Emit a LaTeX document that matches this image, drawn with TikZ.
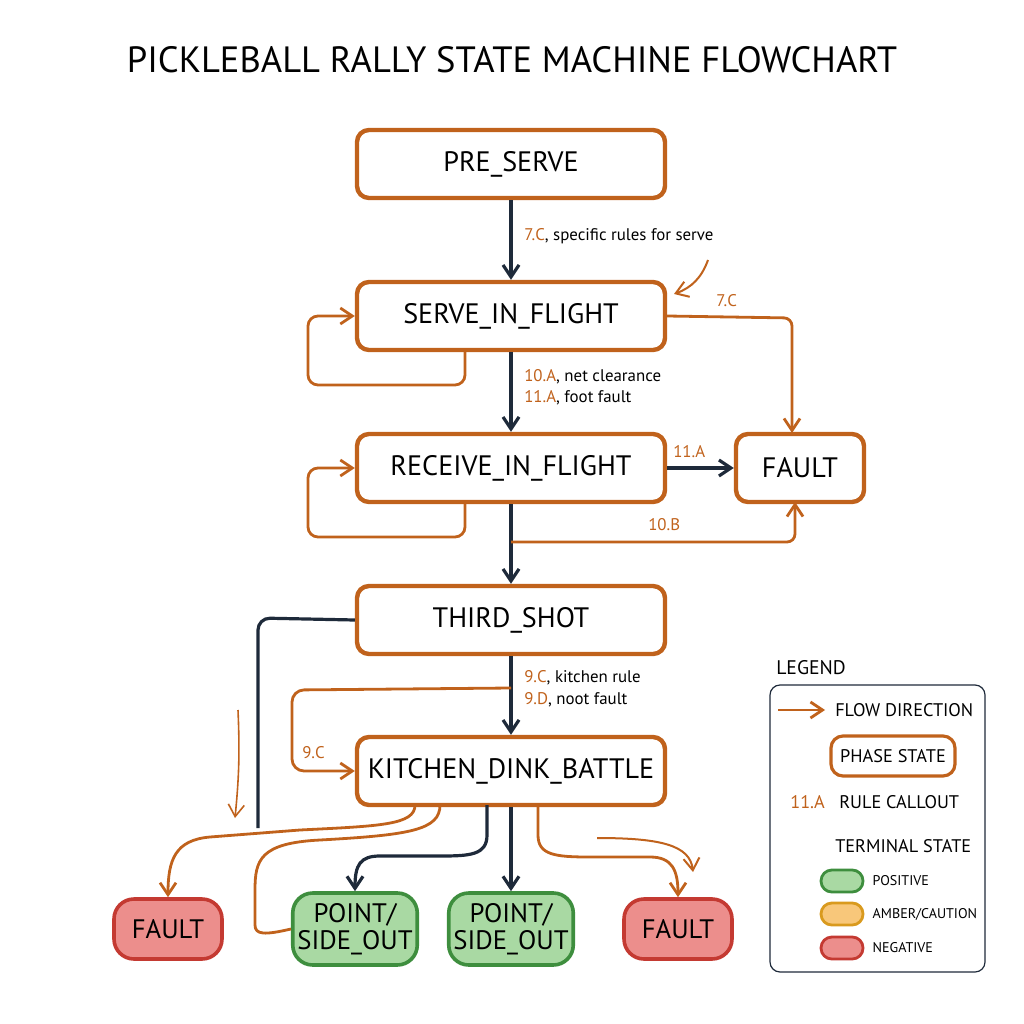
\documentclass[tikz,border=0pt]{standalone}
\usepackage{fontspec}
\setmainfont{PT Sans}
\usetikzlibrary{positioning, arrows.meta}
\definecolor{rust}{HTML}{C0621C}
\definecolor{navy}{HTML}{1E2A3A}
\definecolor{okline}{HTML}{3E8E3E}
\definecolor{okfill}{HTML}{A9D9A3}
\definecolor{badline}{HTML}{C43A32}
\definecolor{badfill}{HTML}{EC8E8C}
\definecolor{ambline}{HTML}{D99A1E}
\definecolor{ambfill}{HTML}{F8C77A}
\begin{document}
\begin{tikzpicture}[x=0.25mm, y=-0.25mm,
	phase/.style={draw=rust, line width=1.1mm, rounded corners=3mm, fill=white, minimum width=77mm, minimum height=17mm, font=\fontsize{20}{24}\selectfont},
	bad/.style={draw=badline, fill=badfill, line width=0.9mm, rounded corners=5mm, minimum width=27mm, minimum height=15mm, font=\fontsize{19}{22}\selectfont},
	good/.style={draw=okline, fill=okfill, line width=0.9mm, rounded corners=5mm, minimum width=31mm, minimum height=18mm, align=center, font=\fontsize{19}{19}\selectfont},
	lbl/.style={font=\fontsize{12}{14}\selectfont, anchor=west, inner sep=0pt},
	rule/.style={text=rust},
	nv/.style={draw=navy, line width=0.8mm, -{Straight Barb[length=3mm,width=4mm]}},
	og/.style={draw=rust, line width=0.7mm, -{Straight Barb[length=3mm,width=4mm]}},
	pill/.style={line width=0.7mm, rounded corners=2.7mm, minimum width=10.5mm, minimum height=5.5mm},
	]
\useasboundingbox (0,0) rectangle (1024,1024);
\node[font=\fontsize{26}{30}\selectfont] (title) at (512,60) {PICKLEBALL RALLY STATE MACHINE FLOWCHART};

% phase states
\node[phase] (pre) at (511,164) {PRE\_SERVE};
\node[phase] (serve) at (511,316) {SERVE\_IN\_FLIGHT};
\node[phase] (recv) at (511,468) {RECEIVE\_IN\_FLIGHT};
\node[phase] (third) at (511,620) {THIRD\_SHOT};
\node[phase] (dink) at (511,771) {KITCHEN\_DINK\_BATTLE};
\node[phase, minimum width=32mm] (fault) at (800,468) {FAULT};

% terminal states
\node[bad] (faultL) at (168,929) {FAULT};
\node[good] (ptA) at (355,929) {POINT/\\SIDE\_OUT};
\node[good] (ptB) at (511,929) {POINT/\\SIDE\_OUT};
\node[bad] (faultR) at (678,929) {FAULT};

% main flow
\draw[nv] (pre) -- (serve);
\node[lbl] (l1) at (524,236) {\textcolor{rust}{7.C}, specific rules for serve};
\draw[og, line width=0.5mm] (708,260) to[bend left=25] (674,294);
\draw[nv] (serve) -- (recv);
\node[lbl] (l2) at (524,377) {\textcolor{rust}{10.A}, net clearance};
\node[lbl] (l3) at (524,398) {\textcolor{rust}{11.A}, foot fault};
\draw[nv] (recv) -- (third);
\draw[nv] (third) -- (dink);
\node[lbl] (l4) at (524,678) {\textcolor{rust}{9.C}, kitchen rule};
\node[lbl] (l5) at (524,700) {\textcolor{rust}{9.D}, noot fault};

% self loops
\draw[og, rounded corners=2.5mm] (465,351) |- (308,385) |- (serve.west);
\draw[og, rounded corners=2.5mm] (465,502) |- (308,537) |- (recv.west);

% to fault
\draw[og, rounded corners=2mm] (serve.east) -- (792,318) -- (792,433);
\node[lbl, rule] (l6) at (716,301) {7.C};
\draw[nv] (recv.east) -- (fault.west);
\node[lbl, rule] (l7) at (673,452) {11.A};
\draw[og, rounded corners=2mm] (511,542) -- (795,542) -- (795,502);
\node[lbl, rule] (l8) at (648,525) {10.B};

% kitchen loop back
\draw[og, rounded corners=3mm] (511,688) -- (292,690) -- (292,771) -- (dink.west);
\node[lbl, rule] (l9) at (302,753) {9.C};
\draw[draw=navy, line width=0.8mm, rounded corners=3mm] (third.west) -- (258,618) -- (258,828);
\draw[og, line width=0.4mm] (238,710) to[bend left=4] (235,818);

% kitchen exits
\draw[og] (415,805) .. controls (415,825) and (380,826) .. (300,830) -- (210,837) .. controls (175,840) and (168,860) .. (faultL.north);
\draw[draw=rust, line width=0.7mm] (440,805) .. controls (440,830) and (410,835) .. (320,840) .. controls (260,843) and (255,860) .. (255,890) -- (255,925) .. controls (255,935) and (265,935) .. (ptA.west);
\draw[nv] (487,805) -- (487,835) .. controls (487,855) and (470,856) .. (440,856) -- (380,856) .. controls (360,856) and (355,865) .. (ptA.north);
\draw[nv] (dink) -- (ptB);
\draw[og] (538,805) -- (538,835) .. controls (538,855) and (555,857) .. (590,857) -- (650,857) .. controls (672,857) and (678,870) .. (faultR.north);
\draw[og, line width=0.5mm] (597,838) .. controls (660,838) and (690,845) .. (693,872);

% legend
\node[font=\fontsize{14}{16}\selectfont, anchor=west, inner sep=0pt] (leg) at (776,668) {LEGEND};
\draw[draw=navy, line width=0.3mm, rounded corners=2.5mm] (770,685) rectangle (985,972);
\coordinate (la) at (778,710);
\draw[og] (la) -- ++(47,0) coordinate (lb);
\node[lbl, font=\fontsize{13}{15}\selectfont] (ld) at (835,710) {FLOW DIRECTION};
\node[phase, minimum width=31mm, minimum height=10mm, line width=0.8mm, font=\fontsize{13}{15}\selectfont] (lp) at (893,756) {PHASE STATE};
\node[lbl, rule, font=\fontsize{13}{15}\selectfont] (lr1) at (790,802) {11.A};
\node[lbl, font=\fontsize{13}{15}\selectfont] (lr2) at (839,802) {RULE CALLOUT};
\node[lbl, font=\fontsize{13}{15}\selectfont] (lt) at (835,846) {TERMINAL STATE};
\node[pill, draw=okline, fill=okfill] (pg) at (842,881) {};
\node[lbl, font=\fontsize{10}{12}\selectfont, right=2mm of pg] (tg) {POSITIVE};
\node[pill, draw=ambline, fill=ambfill] (pa) at (842,914) {};
\node[lbl, font=\fontsize{10}{12}\selectfont, right=2mm of pa] (ta) {AMBER/CAUTION};
\node[pill, draw=badline, fill=badfill] (pr) at (842,948) {};
\node[lbl, font=\fontsize{10}{12}\selectfont, right=2mm of pr] (tr) {NEGATIVE};
\end{tikzpicture}
\end{document}
